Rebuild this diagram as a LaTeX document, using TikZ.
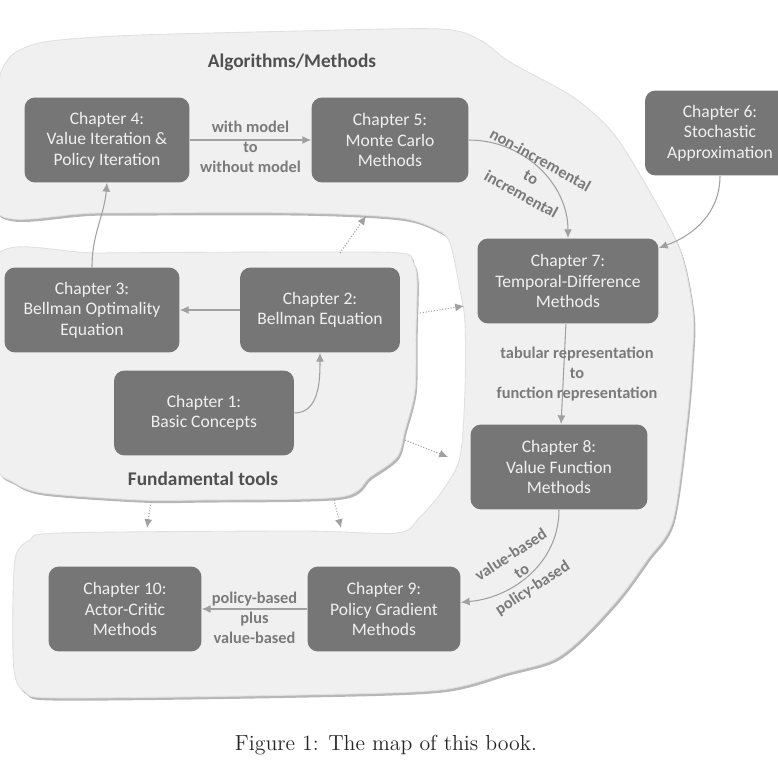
\documentclass[tikz,border=0pt]{standalone}
\usepackage{fontspec}
\newfontfamily\calib{Carlito}
\usetikzlibrary{arrows.meta,shadows}

\definecolor{chapgray}{RGB}{118,118,118}
\definecolor{blobgray}{RGB}{240,240,240}
\definecolor{linegray}{RGB}{160,160,160}
\definecolor{labelgray}{RGB}{122,122,122}
\definecolor{titlegray}{RGB}{80,80,80}

\begin{document}
\begin{tikzpicture}[->, >={Latex[length=5pt,width=4.5pt]}, x=0.02cm, y=0.02cm,
  main node/.style={rounded corners=6pt, fill=chapgray, text=white!94!black, minimum height=1.7cm, inner sep=2pt, font={\calib\fontsize{10}{11.6}\selectfont}},
  blob/.style={fill=blobgray, draw=black!12, line width=.5pt, drop shadow={shadow xshift=1pt, shadow yshift=-1.5pt, opacity=.4, fill=black!70}},
  arrow line/.style={color=linegray, line width=.6pt},
  tag/.style={text=labelgray, font={\calib\bfseries\fontsize{9.3}{11.2}\selectfont}},
  title/.style={text=titlegray, font={\calib\bfseries\fontsize{11}{13}\selectfont}}]
  \tikzstyle{every node}=[align=center]

  \useasboundingbox (0,0) rectangle (778,779);
  \clip (0,0) rectangle (778,779);

  % the two areas
  \path[blob] plot[smooth cycle, tension=.5] coordinates {
    (-3,566) (-3,669) (0,704) (12,724) (35,735) (70,740) (140,744) (300,748)
    (440,750) (480,739) (510,717) (573,682) (613,646) (647,592) (680,529)
    (693,466) (692,419) (687,359) (673,259) (647,219) (620,182) (583,142)
    (553,119) (507,106) (440,89) (300,84) (60,81) (25,87) (14,109) (13,179)
    (16,224) (30,239) (60,246) (300,248) (397,246) (420,262) (443,289)
    (460,322) (465,389) (465,456) (460,489) (450,536) (437,549) (400,561)
    (300,566) (100,566)};
  \path[blob] plot[smooth cycle, tension=.5] coordinates {
    (-3,524) (100,526) (300,527) (400,526) (413,517) (417,499) (416,449)
    (415,389) (405,349) (397,322) (370,302) (340,282) (200,279) (140,279)
    (43,286) (13,297) (-3,314) (-3,400)};

  \node[title] (algo) at (292,717) {Algorithms/Methods};
  \node[title] (fund) at (203,300) {Fundamental tools};

  \node[main node, minimum width=3.6cm] (1) at (204,366) {Chapter 1:\\Basic Concepts};
  \node[main node, minimum width=3.2cm] (2) at (320,469) {Chapter 2:\\Bellman Equation};
  \node[main node, minimum width=3.5cm] (3) at (92,469) {Chapter 3:\\Bellman Optimality\\Equation};
  \node[main node, minimum width=3.3cm] (4) at (107,639) {Chapter 4:\\Value Iteration \&\\Policy Iteration};
  \node[main node, minimum width=3.14cm] (5) at (390,639) {Chapter 5:\\Monte Carlo\\Methods};
  \node[main node, minimum width=3cm] (6) at (720,646) {Chapter 6:\\Stochastic\\Approximation};
  \node[main node, minimum width=3.62cm] (7) at (568,498) {Chapter 7:\\Temporal-Difference\\Methods};
  \node[main node, minimum width=3.54cm] (8) at (559,312) {Chapter 8:\\Value Function\\Methods};
  \node[main node, minimum width=3.06cm] (9) at (384,170) {Chapter 9:\\Policy Gradient\\Methods};
  \node[main node, minimum width=3.06cm] (10) at (125,170) {Chapter 10:\\Actor-Critic\\Methods};

  \path[arrow line]
    (1) edge[out=0,in=-90] (2)
    (2) edge (3)
    (3.north) edge[out=90,in=-95] (4.south)
    (4) edge node[tag, yshift=-0.14cm] (m45) {with model\\to\\without model} (5)
    (5) edge[out=0,in=90] (7)
    (6) edge[out=-90,in=20] (7)
    (7) edge node[tag, xshift=0.27cm] (m78) {tabular representation\\to\\function representation} (8)
    (8) edge[out=-90,in=5] (9)
    (9) edge node[tag, yshift=-0.18cm] (m910) {policy-based\\plus\\value-based} (10);

  \node[tag, rotate=-29] (m57) at (531,602) {non-incremental\\to\\incremental};
  \node[tag, rotate=33] (m89) at (522,207) {value-based\\to\\policy-based};

  % from the tools to the methods
  \coordinate (ft1) at (340,526); \coordinate (am1) at (366,563);
  \coordinate (ft2) at (420,466); \coordinate (am2) at (464,473);
  \coordinate (ft3) at (405,339); \coordinate (am3) at (448,322);
  \coordinate (ft4) at (151,277); \coordinate (am4) at (147,251);
  \coordinate (ft5) at (334,279); \coordinate (am5) at (341,251);
  \path[arrow line, densely dotted]
    (ft1) edge (am1)
    (ft2) edge (am2)
    (ft3) edge (am3)
    (ft4) edge (am4)
    (ft5) edge (am5);

  \node[text=black!85, font=\fontsize{12.4}{15}\selectfont] (caption) at (386,34) {Figure 1: The map of this book.};
\end{tikzpicture}
\end{document}
